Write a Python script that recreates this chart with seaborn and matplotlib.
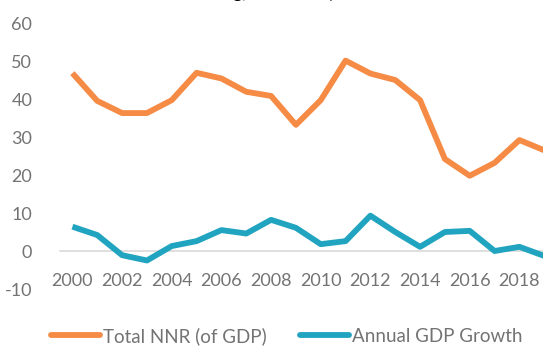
import matplotlib
matplotlib.use("Agg")
import matplotlib.pyplot as plt
import seaborn as sns
import pandas as pd

years = list(range(2000, 2020))
total_nnr = [46.8, 39.5, 36.3, 36.3, 39.7, 46.9, 45.4, 41.9, 40.8, 33.2,
             39.7, 50.1, 46.7, 45.0, 39.7, 24.2, 19.8, 23.2, 29.2, 26.5]
gdp_growth = [6.4, 4.2, -1.1, -2.5, 1.3, 2.6, 5.5, 4.6, 8.2, 6.1,
              1.8, 2.6, 9.3, 5.0, 1.1, 5.0, 5.3, 0.0, 1.1, -1.3]
series_names = ["Total NNR (of GDP)", "Annual GDP Growth"]
series_colors = ["#F58B45", "#21A4BF"]
year_ticks = list(range(2000, 2019, 2))
y_ticks = list(range(-10, 61, 10))

df = pd.DataFrame({"Year": years,
                   series_names[0]: total_nnr,
                   series_names[1]: gdp_growth})
long = df.melt(id_vars="Year", var_name="Series", value_name="Value")

sns.set_style("white")
plt.rcParams["font.family"] = ["Lato", "DejaVu Sans"]

fig = plt.figure(figsize=(5.43, 3.47), dpi=100)
ax = fig.add_axes([60 / 543, (347 - 289) / 347, 1 - 60 / 543, (289 - 23) / 347])

sns.lineplot(data=long, x="Year", y="Value", hue="Series",
             hue_order=series_names, palette=series_colors,
             linewidth=4.2, ax=ax, legend=False)
for ln in ax.lines:
    ln.set_solid_joinstyle("round")
    ln.set_solid_capstyle("butt")

ax.set_xlim(1999.5, 2018.95)
ax.set_ylim(-10, 60)
ax.set_xlabel("")
ax.set_ylabel("")

# category axis sits on the zero line, labels dropped below it
for side in ["top", "right", "left"]:
    ax.spines[side].set_visible(False)
ax.spines["bottom"].set_position(("data", 0))
ax.spines["bottom"].set_color("#d9d9d9")
ax.spines["bottom"].set_linewidth(1.2)
ax.spines["bottom"].set_zorder(0)

label_color = "#737373"
ax.set_xticks(year_ticks)
ax.set_xticklabels([str(y) for y in year_ticks])
ax.tick_params(axis="x", length=0, pad=15.5, labelsize=13, colors=label_color)
ax.set_yticks(y_ticks)
ax.set_yticklabels([str(v) for v in y_ticks])
ax.tick_params(axis="y", length=0, pad=20, labelsize=13, colors=label_color)
for t in ax.get_yticklabels():
    t.set_horizontalalignment("right")

# chart title, mostly cut off by the top edge
fig.text(0.615, 1.0 + 2.5 / 347, "g, % of GDP)", ha="right", va="baseline",
         fontsize=13, fontweight="bold", color="black")

handles = [plt.Line2D([], [], color=c, linewidth=4.2, solid_capstyle="round")
           for c in series_colors]
fig.legend(handles, series_names, loc="center", bbox_to_anchor=(0.528, 1 - 336 / 347),
           ncol=2, frameon=False, fontsize=13.5, labelcolor=label_color,
           handlelength=2.6, handletextpad=0.15, columnspacing=1.8)

fig.savefig("out.png", dpi=100)
